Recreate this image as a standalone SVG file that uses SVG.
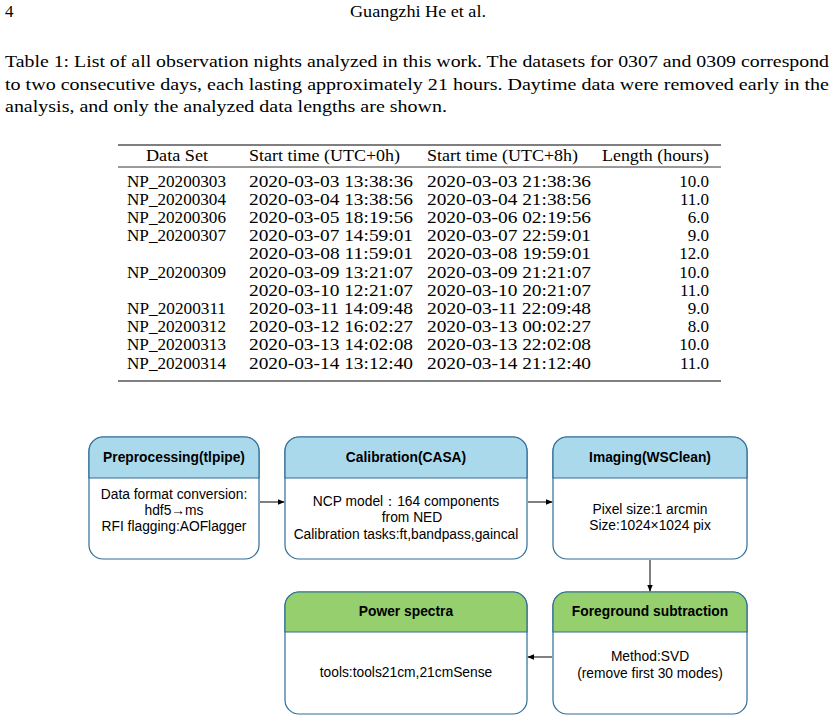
<svg xmlns="http://www.w3.org/2000/svg" width="836" height="721" viewBox="0 0 836 721">
<style>
.t{font-family:"Liberation Serif",serif;font-size:17px;fill:#000}
.r{text-anchor:end}
.b{fill:#fff;stroke:#2f6d96;stroke-width:1.2}
.h{font-family:"Liberation Sans",Arial,sans-serif;font-size:13.8px;font-weight:bold;text-anchor:middle}
.s{font-family:"Liberation Sans",Arial,sans-serif;font-size:13.8px;text-anchor:middle}
.c{stroke:#000;stroke-width:1;fill:none;marker-end:url(#a)}
</style>
<defs><marker id="a" viewBox="0 0 10 10" refX="9" refY="5" markerWidth="7" markerHeight="7" orient="auto"><path d="M0,1L10,5L0,9z" fill="#000"/></marker></defs>
<rect width="836" height="721" fill="#fff"/>
<text class="t" x="5" y="17">4</text>
<text class="t" x="350" y="17" textLength="136" lengthAdjust="spacingAndGlyphs">Guangzhi He et al.</text>
<text class="t" x="5" y="67" textLength="824" lengthAdjust="spacingAndGlyphs">Table 1: List of all observation nights analyzed in this work. The datasets for 0307 and 0309 correspond</text>
<text class="t" x="5" y="90" textLength="824" lengthAdjust="spacingAndGlyphs">to two consecutive days, each lasting approximately 21 hours. Daytime data were removed early in the</text>
<text class="t" x="5" y="112" textLength="442" lengthAdjust="spacingAndGlyphs">analysis, and only the analyzed data lengths are shown.</text>
<line x1="118" y1="145" x2="721" y2="145" stroke="#000" stroke-width="1.2"/>
<line x1="118" y1="167" x2="721" y2="167" stroke="#000" stroke-width="0.8"/>
<line x1="118" y1="381" x2="721" y2="381" stroke="#000" stroke-width="1.2"/>
<g class="t">
<text x="146" y="161" textLength="62" lengthAdjust="spacingAndGlyphs">Data Set</text>
<text x="249" y="161" textLength="151" lengthAdjust="spacingAndGlyphs">Start time (UTC+0h)</text>
<text x="427" y="161" textLength="151" lengthAdjust="spacingAndGlyphs">Start time (UTC+8h)</text>
<text x="602" y="161" textLength="107" lengthAdjust="spacingAndGlyphs">Length (hours)</text>
</g>
<g class="t">
<text x="127" y="187" textLength="99" lengthAdjust="spacingAndGlyphs">NP_20200303</text><text x="249" y="187" textLength="164" lengthAdjust="spacingAndGlyphs">2020-03-03 13:38:36</text><text x="427" y="187" textLength="164" lengthAdjust="spacingAndGlyphs">2020-03-03 21:38:36</text><text class="r" x="709" y="187">10.0</text>
<text x="127" y="205" textLength="99" lengthAdjust="spacingAndGlyphs">NP_20200304</text><text x="249" y="205" textLength="164" lengthAdjust="spacingAndGlyphs">2020-03-04 13:38:56</text><text x="427" y="205" textLength="164" lengthAdjust="spacingAndGlyphs">2020-03-04 21:38:56</text><text class="r" x="709" y="205">11.0</text>
<text x="127" y="223" textLength="99" lengthAdjust="spacingAndGlyphs">NP_20200306</text><text x="249" y="223" textLength="164" lengthAdjust="spacingAndGlyphs">2020-03-05 18:19:56</text><text x="427" y="223" textLength="164" lengthAdjust="spacingAndGlyphs">2020-03-06 02:19:56</text><text class="r" x="709" y="223">6.0</text>
<text x="127" y="241" textLength="99" lengthAdjust="spacingAndGlyphs">NP_20200307</text><text x="249" y="241" textLength="164" lengthAdjust="spacingAndGlyphs">2020-03-07 14:59:01</text><text x="427" y="241" textLength="164" lengthAdjust="spacingAndGlyphs">2020-03-07 22:59:01</text><text class="r" x="709" y="241">9.0</text>
<text x="249" y="259" textLength="164" lengthAdjust="spacingAndGlyphs">2020-03-08 11:59:01</text><text x="427" y="259" textLength="164" lengthAdjust="spacingAndGlyphs">2020-03-08 19:59:01</text><text class="r" x="709" y="259">12.0</text>
<text x="127" y="278" textLength="99" lengthAdjust="spacingAndGlyphs">NP_20200309</text><text x="249" y="278" textLength="164" lengthAdjust="spacingAndGlyphs">2020-03-09 13:21:07</text><text x="427" y="278" textLength="164" lengthAdjust="spacingAndGlyphs">2020-03-09 21:21:07</text><text class="r" x="709" y="278">10.0</text>
<text x="249" y="296" textLength="164" lengthAdjust="spacingAndGlyphs">2020-03-10 12:21:07</text><text x="427" y="296" textLength="164" lengthAdjust="spacingAndGlyphs">2020-03-10 20:21:07</text><text class="r" x="709" y="296">11.0</text>
<text x="127" y="314" textLength="99" lengthAdjust="spacingAndGlyphs">NP_20200311</text><text x="249" y="314" textLength="164" lengthAdjust="spacingAndGlyphs">2020-03-11 14:09:48</text><text x="427" y="314" textLength="164" lengthAdjust="spacingAndGlyphs">2020-03-11 22:09:48</text><text class="r" x="709" y="314">9.0</text>
<text x="127" y="332" textLength="99" lengthAdjust="spacingAndGlyphs">NP_20200312</text><text x="249" y="332" textLength="164" lengthAdjust="spacingAndGlyphs">2020-03-12 16:02:27</text><text x="427" y="332" textLength="164" lengthAdjust="spacingAndGlyphs">2020-03-13 00:02:27</text><text class="r" x="709" y="332">8.0</text>
<text x="127" y="350" textLength="99" lengthAdjust="spacingAndGlyphs">NP_20200313</text><text x="249" y="350" textLength="164" lengthAdjust="spacingAndGlyphs">2020-03-13 14:02:08</text><text x="427" y="350" textLength="164" lengthAdjust="spacingAndGlyphs">2020-03-13 22:02:08</text><text class="r" x="709" y="350">10.0</text>
<text x="127" y="369" textLength="99" lengthAdjust="spacingAndGlyphs">NP_20200314</text><text x="249" y="369" textLength="164" lengthAdjust="spacingAndGlyphs">2020-03-14 13:12:40</text><text x="427" y="369" textLength="164" lengthAdjust="spacingAndGlyphs">2020-03-14 21:12:40</text><text class="r" x="709" y="369">11.0</text>
</g>
<g id="n1">
<rect class="b" x="89" y="437" width="170" height="122" rx="14"/>
<path d="M89,478V451a14,14 0 0 1 14,-14H245a14,14 0 0 1 14,14V478Z" fill="#abd9ec" stroke="#2f6d96" stroke-width="1.2"/>
<text class="h" x="174" y="462">Preprocessing(tlpipe)</text>
<text class="s" x="174" y="499">Data format conversion:</text>
<text class="s" x="174" y="515">hdf5→ms</text>
<text class="s" x="174" y="531">RFI flagging:AOFlagger</text>
</g>
<g id="n2">
<rect class="b" x="285" y="437" width="242" height="122" rx="14"/>
<path d="M285,478V451a14,14 0 0 1 14,-14H513a14,14 0 0 1 14,14V478Z" fill="#abd9ec" stroke="#2f6d96" stroke-width="1.2"/>
<text class="h" x="406" y="462">Calibration(CASA)</text>
<text class="s" x="406" y="506">NCP model：164 components</text>
<text class="s" x="412" y="522">from NED</text>
<text class="s" x="406" y="539">Calibration tasks:ft,bandpass,gaincal</text>
</g>
<g id="n3">
<rect class="b" x="553" y="437" width="194" height="122" rx="14"/>
<path d="M553,478V451a14,14 0 0 1 14,-14H733a14,14 0 0 1 14,14V478Z" fill="#abd9ec" stroke="#2f6d96" stroke-width="1.2"/>
<text class="h" x="650" y="462">Imaging(WSClean)</text>
<text class="s" x="650" y="514">Pixel size:1 arcmin</text>
<text class="s" x="650" y="530">Size:1024×1024 pix</text>
</g>
<g id="n4">
<rect class="b" x="285" y="592" width="242" height="122" rx="14"/>
<path d="M285,632V606a14,14 0 0 1 14,-14H513a14,14 0 0 1 14,14V632Z" fill="#96cf6e" stroke="#2f6d96" stroke-width="1.2"/>
<text class="h" x="406" y="616">Power spectra</text>
<text class="s" x="406" y="677">tools:tools21cm,21cmSense</text>
</g>
<g id="n5">
<rect class="b" x="553" y="592" width="194" height="122" rx="14"/>
<path d="M553,632V606a14,14 0 0 1 14,-14H733a14,14 0 0 1 14,14V632Z" fill="#96cf6e" stroke="#2f6d96" stroke-width="1.2"/>
<text class="h" x="650" y="616">Foreground subtraction</text>
<text class="s" x="650" y="661">Method:SVD</text>
<text class="s" x="650" y="678">(remove first 30 modes)</text>
</g>
<g id="connectors">
<line class="c" x1="260" y1="502" x2="284" y2="502"/>
<line class="c" x1="528" y1="502" x2="552" y2="502"/>
<line class="c" x1="650" y1="560" x2="650" y2="591"/>
<line class="c" x1="552" y1="657" x2="528" y2="657"/>
</g>
</svg>
